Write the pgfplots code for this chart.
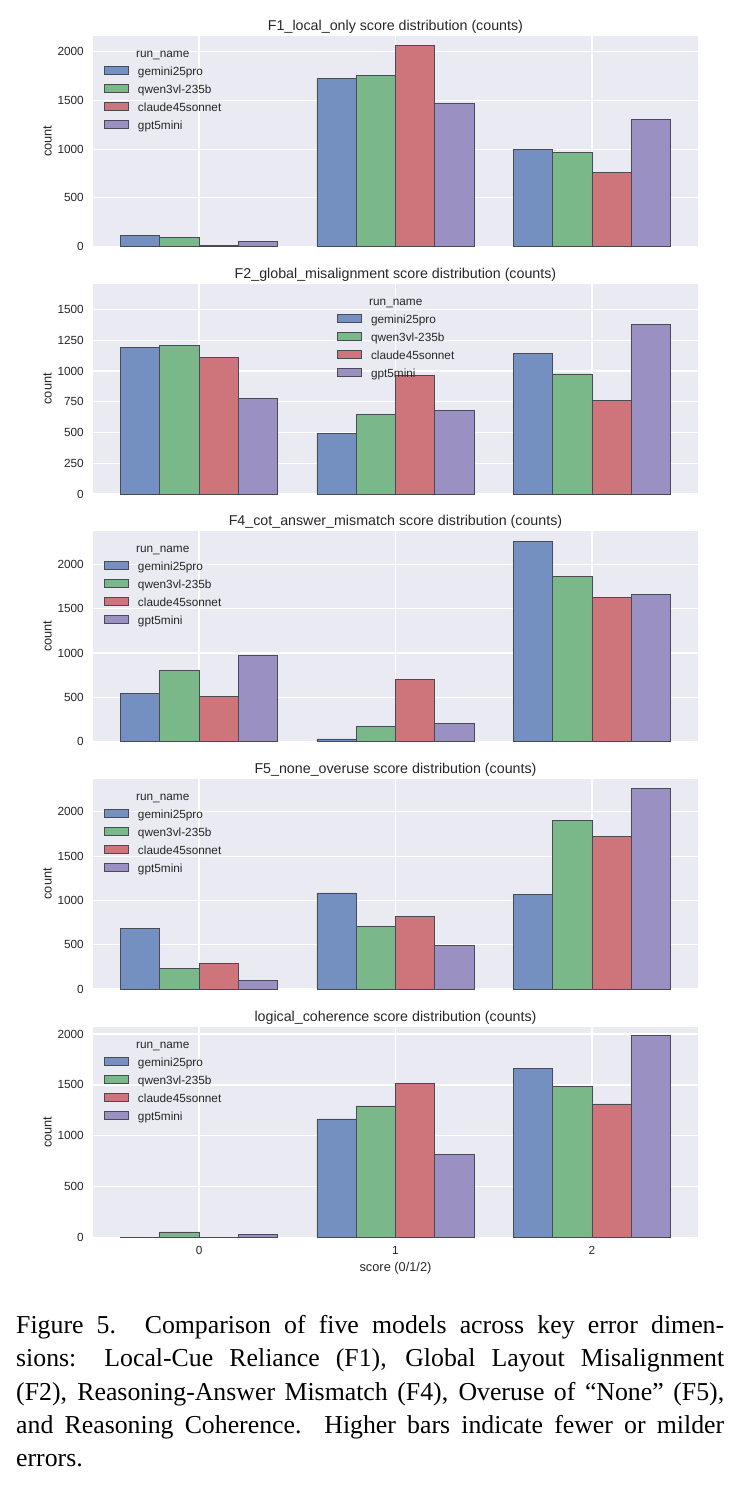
\documentclass[border=0pt]{standalone}
\usepackage{fontspec}
\setmainfont{Liberation Sans}
\newfontfamily\capfont{Liberation Serif}
\usepackage{pgfplots}
\usepackage{pgfplotstable}
\pgfplotsset{compat=1.18}

\definecolor{bgc}{HTML}{EAEAF2}
\definecolor{txt}{HTML}{262626}
\definecolor{cgem}{RGB}{115,144,192}
\definecolor{cqwen}{RGB}{122,184,138}
\definecolor{cclaude}{RGB}{205,117,122}
\definecolor{cgpt}{RGB}{155,144,194}
\definecolor{edge}{RGB}{74,74,86}

% counts per score (0/1/2) for each run
\pgfplotstableread{
score gem  qwen claude gpt
0     110  93   8      48
1     1722 1753 2062   1467
2     1000 969  763    1309
}\Fone
\pgfplotstableread{
score gem  qwen claude gpt
0     1192 1205 1108   778
1     491  643  962    676
2     1143 976  757    1381
}\Ftwo
\pgfplotstableread{
score gem  qwen claude gpt
0     547  806  510    972
1     29   172  701    209
2     2267 1865 1633   1659
}\Ffour
\pgfplotstableread{
score gem  qwen claude gpt
0     682  229  289    93
1     1084 702  818    491
2     1070 1907 1723   2259
}\Ffive
\pgfplotstableread{
score gem  qwen claude gpt
0     5    55   3      33
1     1165 1293 1510   814
2     1658 1481 1313   1983
}\Flc

\pgfplotsset{
  panel/.style={
    scale only axis, width=605bp, height=210.5bp,
    anchor=north west,
    xmin=-0.54, xmax=2.54, ymin=0,
    axis background/.style={fill=bgc},
    axis line style={draw=none},
    xtick={0,1,2}, xticklabels={},
    grid=major, major grid style={draw=white, line width=1.2bp},
    major tick length=0pt, tick style={draw=none},
    /pgf/number format/assume math mode=true,
    /pgf/number format/1000 sep={},
    scaled y ticks=false,
    tick label style={font=\fontsize{11.8bp}{14bp}\selectfont, text=txt, inner sep=0pt},
    yticklabel style={xshift=-9bp},
    xticklabel style={yshift=-9bp},
    ylabel={count},
    every axis y label/.style={at={(axis description cs:-0.0752,0.5)}, rotate=90,
      anchor=center, inner sep=0pt, font=\fontsize{12.8bp}{15bp}\selectfont, text=txt},
    every axis x label/.style={at={(axis description cs:0.5,-0.1435)},
      anchor=center, inner sep=0pt, font=\fontsize{12.8bp}{15bp}\selectfont, text=txt},
    every axis title/.style={at={(axis description cs:0.5,1)}, anchor=base,
      yshift=5.5bp, inner sep=0pt, font=\fontsize{14.25bp}{17bp}\selectfont, text=txt},
    ybar, bar width=0.2,
    legend image code/.code={\draw[##1] (0bp,1bp) rectangle (24bp,9bp);},
    legend style={draw=none, fill=none, inner sep=0pt, row sep=5bp, column sep=9bp,
      cells={anchor=base west},
      nodes={inner sep=0pt, text height=10bp, text depth=3bp},
      font=\fontsize{11.8bp}{14bp}\selectfont, text=txt,
      at={(axis description cs:0,1)}, anchor=north west, xshift=11bp, yshift=-29.5bp},
  },
  bars/.style={fill=#1, draw=edge, line width=0.8bp},
}

\newcommand{\runbars}[1]{%
  \addplot[bars=cgem,    bar shift=-0.3] table[x=score,y=gem]{#1};
  \addplot[bars=cqwen,   bar shift=-0.1] table[x=score,y=qwen]{#1};
  \addplot[bars=cclaude, bar shift=0.1]  table[x=score,y=claude]{#1};
  \addplot[bars=cgpt,    bar shift=0.3]  table[x=score,y=gpt]{#1};
  \legend{gemini25pro,qwen3vl-235b,claude45sonnet,gpt5mini}}

\newcommand{\legtitle}[1]{%
  \node[anchor=base, inner sep=0pt, font=\fontsize{11.8bp}{14bp}\selectfont, text=txt]
    at ([yshift=8bp]#1.north) {run\_name};}

\begin{document}
\begin{tikzpicture}
\useasboundingbox (0,0) rectangle (740bp,-1487bp);

\begin{axis}[panel, at={(93bp,-36bp)}, ymax=2162,
  ytick={0,500,1000,1500,2000},
  title={F1\_local\_only score distribution (counts)},
  legend style={name=legA}]
  \runbars{\Fone}
\end{axis}
\legtitle{legA}

\begin{axis}[panel, at={(93bp,-283.5bp)}, ymax=1711,
  ytick={0,250,500,750,1000,1250,1500},
  title={F2\_global\_misalignment score distribution (counts)},
  legend style={name=legB, xshift=233bp}]
  \runbars{\Ftwo}
\end{axis}
\legtitle{legB}

\begin{axis}[panel, at={(93bp,-531bp)}, ymax=2380,
  ytick={0,500,1000,1500,2000},
  title={F4\_cot\_answer\_mismatch score distribution (counts)},
  legend style={name=legC}]
  \runbars{\Ffour}
\end{axis}
\legtitle{legC}

\begin{axis}[panel, at={(93bp,-778.5bp)}, ymax=2376,
  ytick={0,500,1000,1500,2000},
  title={F5\_none\_overuse score distribution (counts)},
  legend style={name=legD}]
  \runbars{\Ffive}
\end{axis}
\legtitle{legD}

\begin{axis}[panel, at={(93bp,-1027bp)}, ymax=2069,
  ytick={0,500,1000,1500,2000},
  xticklabels={0,1,2},
  xlabel={score (0/1/2)},
  title={logical\_coherence score distribution (counts)},
  legend style={name=legE}]
  \runbars{\Flc}
\end{axis}
\legtitle{legE}

\node[anchor=base west, inner sep=0pt, text width=708bp, align=justify,
      font=\capfont\fontsize{25.8bp}{33.4bp}\selectfont]
  at (16bp,-1333.3bp)
  {Figure 5.  Comparison of five models across key error dimen-\linebreak
   sions:  Local-Cue Reliance (F1), Global Layout Misalignment\linebreak
   (F2), Reasoning-Answer Mismatch (F4), Overuse of “None” (F5),\linebreak
   and Reasoning Coherence.  Higher bars indicate fewer or milder\linebreak
   errors.};
\end{tikzpicture}
\end{document}
